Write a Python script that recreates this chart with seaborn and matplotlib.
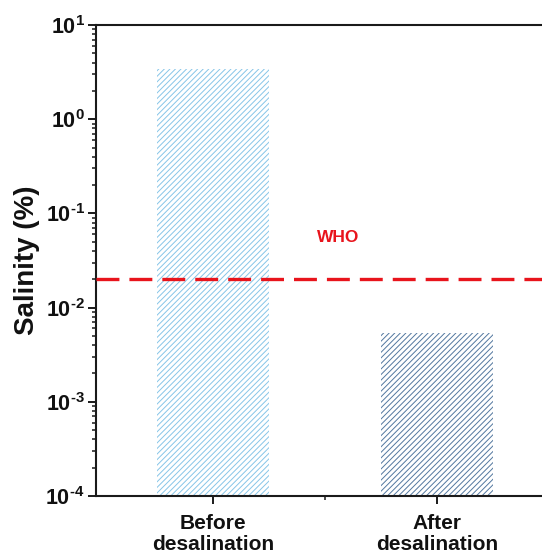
import matplotlib
matplotlib.use("Agg")
import matplotlib.pyplot as plt
import seaborn as sns
import numpy as np
import pandas as pd
from matplotlib.ticker import LogLocator, FixedLocator, FuncFormatter

categories = ["Before\ndesalination", "After\ndesalination"]
salinity = [3.4, 0.0054]
bar_colors = ["#86c5e8", "#52779f"]
who_limit = 0.02
who_label = "WHO"
y_label = "Salinity (%)"

sns.set_theme(style="ticks")
plt.rcParams['font.family'] = ['Liberation Sans', 'DejaVu Sans']
plt.rcParams['mathtext.fontset'] = 'custom'
plt.rcParams['mathtext.rm'] = 'Liberation Sans:bold'
plt.rcParams['mathtext.bf'] = 'Liberation Sans:bold'
plt.rcParams['hatch.linewidth'] = 0.7
plt.rcParams['lines.scale_dashes'] = False

df = pd.DataFrame({"cat": categories, "val": salinity})

fig = plt.figure(figsize=(5.42, 5.56), dpi=100)
ax = fig.add_axes([0.177, 0.108, 0.823, 0.847])
ax.set_yscale("log")
sns.barplot(data=df, x="cat", y="val", hue="cat", palette=bar_colors,
            width=0.5, legend=False, ax=ax, linewidth=0, hatch="//////")
for p, c in zip(ax.patches, bar_colors):
    p.set_facecolor("white")
    p.set_edgecolor(c)
    p.set_linewidth(0)

ax.axhline(who_limit, color="#e8141c", lw=2.4, linestyle=(0, (16.5, 7.2)), zorder=5)
ax.text(0.557, 0.055, who_label, color="#e8141c", fontsize=12.5, fontweight="bold",
        ha="center", va="center")

ax.set_ylim(1e-4, 10)
ax.set_xlim(-0.522, 1.469)


def fmt(v, p):
    e = int(round(np.log10(v)))
    if e < 0:
        return r"$\mathbf{10^{\text{-}%d}}$" % (-e)
    return r"$\mathbf{10^{%d}}$" % e


ax.yaxis.set_major_locator(LogLocator(base=10, numticks=10))
ax.yaxis.set_minor_locator(LogLocator(base=10, subs=np.arange(2, 10), numticks=10))
ax.yaxis.set_major_formatter(FuncFormatter(fmt))
ax.yaxis.set_minor_formatter(FuncFormatter(lambda v, p: ""))
ax.xaxis.set_minor_locator(FixedLocator([0.5]))

for s in ["left", "bottom", "top"]:
    ax.spines[s].set_linewidth(1.5)
    ax.spines[s].set_color("#1a1a1a")
ax.spines["right"].set_visible(False)

ax.tick_params(axis="y", which="major", direction="out", length=6, width=1.4, labelsize=15.5, pad=2, color="#1a1a1a")
ax.tick_params(axis="y", which="minor", direction="out", length=3, width=1.1, color="#1a1a1a")
ax.tick_params(axis="x", which="major", direction="out", length=6, width=1.4, labelsize=15, pad=7, color="#1a1a1a")
ax.tick_params(axis="x", which="minor", direction="out", length=3, width=1.1, color="#1a1a1a")
for lbl in ax.get_xticklabels():
    lbl.set_fontweight("bold")
    lbl.set_linespacing(1.15)
    lbl.set_color("#111111")
for lbl in ax.get_yticklabels():
    lbl.set_color("#111111")

ax.set_xlabel("")
ax.set_ylabel(y_label, fontsize=20, fontweight="bold", labelpad=4, color="#111111")

fig.savefig("out.png", dpi=100, facecolor="white")
